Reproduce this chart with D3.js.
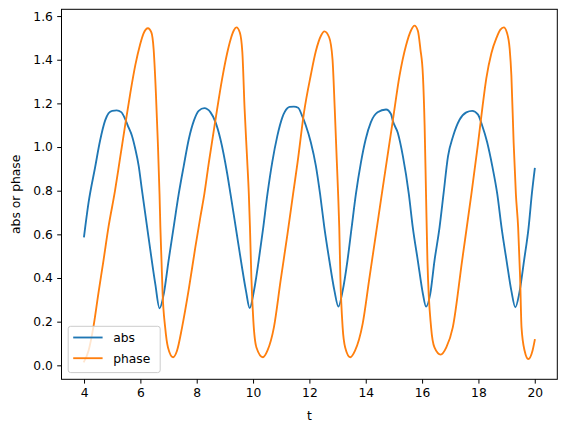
<!DOCTYPE html>
<html>
<head>
<meta charset="utf-8">
<script src="https://cdn.jsdelivr.net/npm/d3@7"></script>
<style>
  body { margin: 0; background: #fff; }
  svg { display: block; font-family: "DejaVu Sans", sans-serif; }
</style>
</head>
<body>
<svg id="chart" width="567" height="432"></svg>
<script>
// values
const absT = [4.00, 4.16, 4.39, 4.57, 4.75, 4.87, 5.00, 5.16, 5.32, 5.46, 5.58, 5.70, 5.82, 5.94, 6.05,
  6.29, 6.53, 6.68, 6.83, 7.00, 7.18, 7.36, 7.54, 7.72, 7.90, 8.07, 8.27, 8.49, 8.67, 8.84, 9.08, 9.20,
  9.40, 9.60, 9.75, 9.88, 10.03, 10.20, 10.35, 10.51, 10.68, 10.86, 11.04, 11.22, 11.30, 11.45, 11.60,
  11.75, 11.87, 12.05, 12.23, 12.38, 12.53, 12.71, 12.89, 13.03, 13.18, 13.35, 13.50, 13.65, 13.83,
  14.00, 14.18, 14.42, 14.72, 14.90, 14.96, 15.14, 15.32, 15.53, 15.67, 15.85, 16.03, 16.14, 16.29,
  16.44, 16.62, 16.76, 16.92, 17.10, 17.33, 17.57, 17.78, 17.98, 18.13, 18.31, 18.49, 18.67, 18.82,
  19.00, 19.17, 19.31, 19.45, 19.62, 19.78, 19.90, 20.00]
const absV = [0.59, 0.745, 0.905, 1.030, 1.122, 1.155, 1.166, 1.168, 1.160, 1.128, 1.090, 1.052, 0.991, 0.914, 0.808,
  0.586, 0.372, 0.261, 0.327, 0.479, 0.632, 0.784, 0.914, 1.037, 1.121, 1.166, 1.178, 1.159, 1.113, 1.037, 0.880, 0.784,
  0.620, 0.455, 0.340, 0.262, 0.340, 0.480, 0.620, 0.784, 0.930, 1.050, 1.136, 1.178, 1.184, 1.185, 1.180,
  1.140, 1.100, 1.022, 0.914, 0.784, 0.632, 0.479, 0.341, 0.269, 0.341, 0.479, 0.632, 0.784, 0.930,
  1.037, 1.113, 1.159, 1.172, 1.150, 1.120, 1.064, 0.957, 0.784, 0.632, 0.479, 0.327, 0.269, 0.327,
  0.479, 0.632, 0.784, 0.957, 1.049, 1.125, 1.159, 1.166, 1.150, 1.100, 1.022, 0.914, 0.784, 0.632,
  0.479, 0.341, 0.266, 0.330, 0.480, 0.630, 0.790, 0.900]

const phaseT = [4.00, 4.16, 4.33, 4.51, 4.69, 4.87, 5.10, 5.28, 5.46, 5.64, 5.82, 5.99, 6.11, 6.27, 6.39,
  6.47, 6.55, 6.62, 6.68, 6.71, 6.75, 6.79, 6.88, 6.98, 7.16, 7.30, 7.48, 7.72, 7.95, 8.13, 8.27, 8.43,
  8.67, 8.90, 9.08, 9.20, 9.32, 9.41, 9.53, 9.62, 9.70, 9.79, 9.85, 9.89, 9.94, 10.01, 10.12, 10.35,
  10.51, 10.74, 10.98, 11.22, 11.42, 11.58, 11.81, 12.05, 12.23, 12.41, 12.53, 12.70, 12.82, 12.90,
  12.97, 13.02, 13.06, 13.10, 13.18, 13.27, 13.45, 13.62, 13.89, 14.13, 14.36, 14.57, 14.96, 15.20,
  15.43, 15.61, 15.73, 15.85, 15.94, 16.03, 16.09, 16.14, 16.19, 16.32, 16.44, 16.66, 16.86, 17.09,
  17.42, 17.75, 17.98, 18.15, 18.28, 18.46, 18.64, 18.78, 18.90, 19.01, 19.11, 19.17, 19.25, 19.33,
  19.41, 19.48, 19.53, 19.64, 19.77, 19.92, 20.00]
const phaseV = [0.017, 0.067, 0.174, 0.330, 0.480, 0.635, 0.800, 0.950, 1.100, 1.245, 1.375, 1.470, 1.520, 1.544, 1.525,
  1.449, 1.250, 1.021, 0.784, 0.632, 0.479, 0.327, 0.174, 0.082, 0.037, 0.067, 0.174, 0.350, 0.540, 0.680, 0.784, 0.929,
  1.128, 1.311, 1.430, 1.492, 1.535, 1.548, 1.525, 1.434, 1.174, 0.944, 0.784, 0.632, 0.403, 0.205, 0.082, 0.037,
  0.067, 0.174, 0.390, 0.600, 0.784, 0.930, 1.160, 1.330, 1.440, 1.510, 1.530, 1.503, 1.403, 1.174,
  0.944, 0.784, 0.632, 0.403, 0.174, 0.082, 0.037, 0.067, 0.190, 0.400, 0.600, 0.784, 1.120, 1.327,
  1.465, 1.535, 1.556, 1.533, 1.449, 1.327, 1.098, 0.784, 0.479, 0.174, 0.082, 0.049, 0.082, 0.174,
  0.479, 0.784, 1.010, 1.190, 1.315, 1.430, 1.500, 1.538, 1.548, 1.525, 1.449, 1.327, 1.021, 0.784,
  0.632, 0.403, 0.174, 0.067, 0.029, 0.067, 0.116]

const xTicks = [4, 6, 8, 10, 12, 14, 16, 18, 20]
const yTicks = [0.0, 0.2, 0.4, 0.6, 0.8, 1.0, 1.2, 1.4, 1.6]
const seriesNames = ['abs', 'phase']
const colors = ['#1f77b4', '#ff7f0e']

const margin = { left: 61.5, right: 557.3, top: 9.3, bottom: 379.3 }
const fs = 12.3

let svg = d3.select('#chart')

let x = d3.scaleLinear().domain([3.2, 20.8]).range([margin.left, margin.right])
let y = d3.scaleLinear().domain([-0.064, 1.631]).range([margin.bottom, margin.top])

// axes
let xAxis = d3.axisBottom(x).tickValues(xTicks).tickFormat(d3.format('d'))
  .tickSizeInner(4.3).tickSizeOuter(0).tickPadding(4.3)
let yAxis = d3.axisLeft(y).tickValues(yTicks).tickFormat(d3.format('.1f'))
  .tickSizeInner(4.3).tickSizeOuter(0).tickPadding(4.3)

let gx = svg.append('g').attr('transform', `translate(0,${margin.bottom})`).call(xAxis)
let gy = svg.append('g').attr('transform', `translate(${margin.left},0)`).call(yAxis)
for (let g of [gx, gy]) {
  g.select('.domain').remove()
  g.selectAll('line').attr('stroke', '#000').attr('stroke-width', 1)
  g.selectAll('text').attr('fill', '#000').style('font-size', fs + 'px')
    .style('font-family', '"DejaVu Sans", sans-serif')
}

svg.append('text')
  .attr('x', (margin.left + margin.right) / 2)
  .attr('y', 420)
  .attr('text-anchor', 'middle')
  .style('font-size', fs + 'px')
  .text('t')

svg.append('text')
  .attr('transform', `translate(19.5,${(margin.top + margin.bottom) / 2}) rotate(-90)`)
  .attr('text-anchor', 'middle')
  .style('font-size', fs + 'px')
  .text('abs or phase')

// lines
let line = d3.line()
  .x(d => x(d[0]))
  .y(d => y(d[1]))
  .curve(d3.curveMonotoneX)

let series = [d3.zip(absT, absV), d3.zip(phaseT, phaseV)]
svg.append('defs').append('clipPath').attr('id', 'clip')
  .append('rect')
  .attr('x', margin.left).attr('y', margin.top)
  .attr('width', margin.right - margin.left).attr('height', margin.bottom - margin.top)

svg.append('g').attr('clip-path', 'url(#clip)')
  .selectAll('path').data(series)
  .enter()
  .append('path')
  .attr('fill', 'none')
  .attr('stroke', (d, i) => colors[i])
  .attr('stroke-width', 1.85)
  .attr('stroke-linejoin', 'round')
  .attr('stroke-linecap', 'square')
  .attr('d', line)

// frame
svg.append('rect')
  .attr('x', margin.left).attr('y', margin.top)
  .attr('width', margin.right - margin.left).attr('height', margin.bottom - margin.top)
  .attr('fill', 'none').attr('stroke', '#000').attr('stroke-width', 1)

// legend
let legend = svg.append('g')
legend.append('rect')
  .attr('x', 68.2).attr('y', 326.3).attr('width', 92).attr('height', 46.3)
  .attr('rx', 2.5)
  .attr('fill', '#fff').attr('fill-opacity', 0.8)
  .attr('stroke', '#cccccc').attr('stroke-width', 1)

let rows = legend.selectAll('g.row').data(seriesNames)
  .enter().append('g')
  .attr('transform', (d, i) => `translate(0,${337.5 + i * 20.7})`)
rows.append('line')
  .attr('x1', 73.2).attr('x2', 102.6).attr('y1', 0).attr('y2', 0)
  .attr('stroke', (d, i) => colors[i]).attr('stroke-width', 1.85)
rows.append('text')
  .attr('x', 113.2).attr('y', 4.4)
  .style('font-size', fs + 'px')
  .text(d => d)
</script>
</body>
</html>
